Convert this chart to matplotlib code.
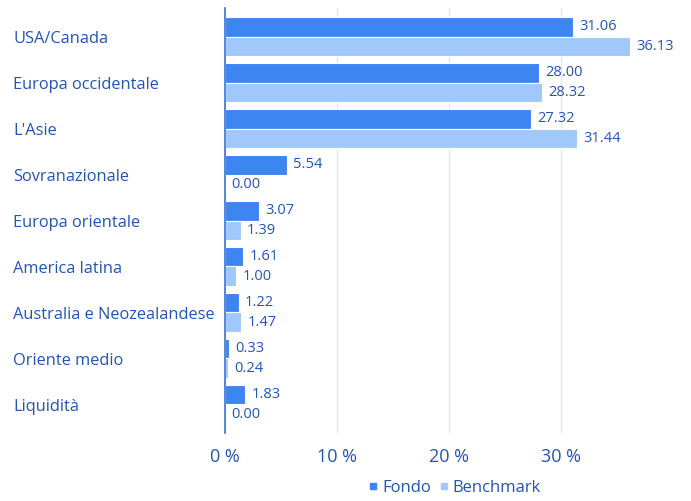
import matplotlib
matplotlib.use("Agg")
import matplotlib.pyplot as plt
import numpy as np
from matplotlib.lines import Line2D

categories = ["USA/Canada", "Europa occidentale", "L'Asie", "Sovranazionale",
              "Europa orientale", "America latina", "Australia e Neozealandese",
              "Oriente medio", "Liquidità"]
fondo = [31.06, 28.00, 27.32, 5.54, 3.07, 1.61, 1.22, 0.33, 1.83]
benchmark = [36.13, 28.32, 31.44, 0.00, 1.39, 1.00, 1.47, 0.24, 0.00]
xticks = [0, 10, 20, 30]
xtick_labels = ["0 %", "10 %", "20 %", "30 %"]

plt.rcParams['font.family'] = ['Open Sans', 'DejaVu Sans']
txt = '#2453b8'
c_f = '#3d85f0'
c_b = '#a0c8fa'

fig = plt.figure(figsize=(6.91, 5.01), dpi=100)
ax = fig.add_axes([225/691, 68/501, 448/691, 425/501])

y = np.arange(len(categories))
h = 0.42
ax.barh(y - h/2, fondo, height=h, color=c_f, edgecolor='white', linewidth=0.8, label='Fondo', zorder=3)
ax.barh(y + h/2, benchmark, height=h, color=c_b, edgecolor='white', linewidth=0.8, label='Benchmark', zorder=3)

for i in range(len(categories)):
    ax.annotate(f"{fondo[i]:.2f}", (fondo[i], y[i] - h/2), xytext=(4.5, 0), textcoords='offset points',
                va='center', ha='left', color=txt, fontsize=10.5)
    ax.annotate(f"{benchmark[i]:.2f}", (benchmark[i], y[i] + h/2), xytext=(4.5, 0), textcoords='offset points',
                va='center', ha='left', color=txt, fontsize=10.5)

ax.set_xlim(0, 40)
ax.set_ylim(8.62, -0.62)
ax.set_yticks(y + 0.02)
ax.set_yticklabels(categories, color=txt, fontsize=11.8)
ax.set_xticks(xticks)
ax.set_xticklabels(xtick_labels, color=txt, fontsize=13)
ax.tick_params(axis='both', length=0)
ax.tick_params(axis='y', pad=212 * 0.72)
for lbl in ax.get_yticklabels():
    lbl.set_horizontalalignment('left')
ax.tick_params(axis='x', pad=10.5)
ax.xaxis.grid(True, color='#dce8f8', linewidth=1, zorder=0)
ax.set_axisbelow(True)
for s in ['top', 'right', 'bottom']:
    ax.spines[s].set_visible(False)
ax.spines['left'].set_color('#3d6fd0')
ax.spines['left'].set_linewidth(1.2)
ax.spines['left'].set_zorder(5)

handles = [Line2D([], [], marker='s', linestyle='none', color=c_f, markersize=4),
           Line2D([], [], marker='s', linestyle='none', color=c_b, markersize=4)]
leg = fig.legend(handles, ['Fondo', 'Benchmark'], loc='center', bbox_to_anchor=(455/691, 1 - 488/501),
                 ncol=2, frameon=False, fontsize=12, handlelength=0.5, handletextpad=0.3,
                 columnspacing=0.5)
for t in leg.get_texts():
    t.set_color(txt)

fig.savefig("out.png", dpi=100)
